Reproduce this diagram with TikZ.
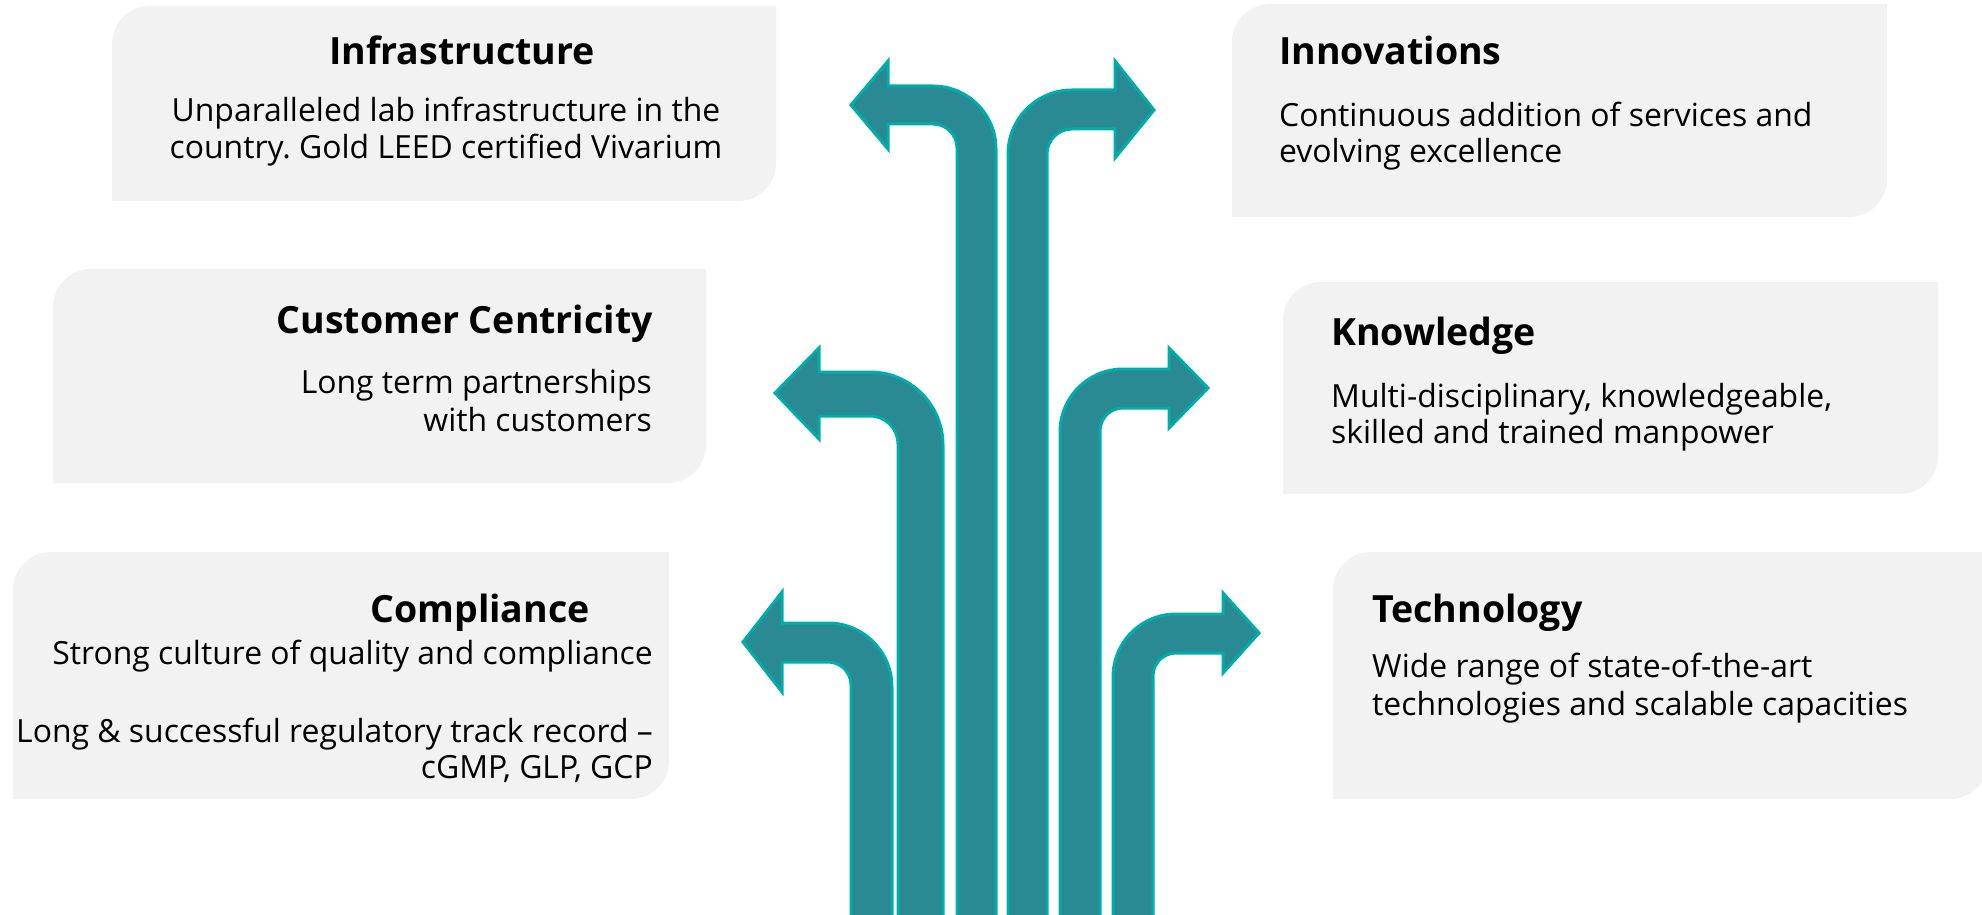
\documentclass[tikz,border=0pt]{standalone}
\usepackage{fontspec}
\setmainfont{Open Sans}
\frenchspacing

\definecolor{panelgray}{HTML}{F2F2F2}
\definecolor{arrowfill}{HTML}{298A94}
\definecolor{arrowedge}{HTML}{00ADA8}

% panel with rounded top-left and bottom-right corners: name, x1, y1, x2, y2
\newcommand\panelbox[5]{%
  \path[panel] (#2,#3+38) arc[start angle=180,end angle=270,radius=38]
    -- (#4,#3) -- (#4,#5-38) arc[start angle=0,end angle=90,radius=38]
    -- (#2,#5) -- cycle;
  \coordinate (#1) at ({(#2+#4)/2},{(#3+#5)/2});
}

\tikzset{
  panel/.style={fill=panelgray, draw=none},
  heading/.style={font=\bfseries\fontsize{37.5}{45}\selectfont, inner sep=0pt, text=black},
  bodytext/.style={font=\fontsize{31.9}{38}\selectfont, inner sep=0pt, text=black},
  branch/.style={fill=arrowfill, draw=arrowedge, line width=3pt, line join=miter},
}

\begin{document}
\begin{tikzpicture}[x=1pt, y=-1pt]
\useasboundingbox (0,0) rectangle (1982,915);

% ---- panels ----
\panelbox{infra}{112}{6}{776}{201}
\panelbox{cust}{53}{269}{706}{483}
\panelbox{compl}{13}{552}{669}{799}
\panelbox{innov}{1232}{4}{1887}{217}
\panelbox{know}{1283}{282}{1938}{494}
\panelbox{tech}{1333}{552}{1988}{799}

% ---- branching arrows ----
% top left
\draw[branch] (996,920) -- (996,149) arc[start angle=0,end angle=-90,radius=63]
  -- (888,86) -- (888,61) -- (851,105) -- (888,149) -- (888,124) -- (933,124)
  arc[start angle=-90,end angle=0,radius=24] -- (957,920) -- cycle;
% top right
\draw[branch] (1008,920) -- (1008,154) arc[start angle=180,end angle=270,radius=64]
  -- (1115,90) -- (1115,61) -- (1154,110) -- (1115,158) -- (1115,129) -- (1072,129)
  arc[start angle=270,end angle=180,radius=25] -- (1047,920) -- cycle;
% middle left
\draw[branch] (943,920) -- (943,445) arc[start angle=0,end angle=-90,radius=73]
  -- (819,372) -- (819,348) -- (775,393) -- (819,439) -- (819,416) -- (870,416)
  arc[start angle=-90,end angle=0,radius=28] -- (898,920) -- cycle;
% middle right
\draw[branch] (1060,920) -- (1060,432) arc[start angle=180,end angle=270,radius=63]
  -- (1169,369) -- (1169,348) -- (1208,388) -- (1169,428) -- (1169,408) -- (1123,408)
  arc[start angle=270,end angle=180,radius=23] -- (1100,920) -- cycle;
% bottom left
\draw[branch] (892,920) -- (892,687) arc[start angle=0,end angle=-90,radius=64]
  -- (782,623) -- (782,592) -- (743,642) -- (782,692) -- (782,662) -- (828,662)
  arc[start angle=-90,end angle=0,radius=23] -- (851,920) -- cycle;
% bottom right
\draw[branch] (1113,920) -- (1113,677) arc[start angle=180,end angle=270,radius=63]
  -- (1223,614) -- (1223,593) -- (1259,633) -- (1223,673) -- (1223,653) -- (1176,653)
  arc[start angle=270,end angle=180,radius=23] -- (1153,920) -- cycle;

% ---- texts ----
\node[heading, anchor=base] (infra-title) at (462,65) {Infrastructure};
\node[bodytext, anchor=base] (infra-l1) at (446,122) {Unparalleled lab infrastructure in the};
\node[bodytext, anchor=base] (infra-l2) at (446,159) {country. Gold LEED certified Vivarium};

\node[heading, anchor=base east] (cust-title) at (653,333) {Customer Centricity};
\node[bodytext, anchor=base east] (cust-l1) at (652,393) {Long term partnerships};
\node[bodytext, anchor=base east] (cust-l2) at (652,431) {with customers};

\node[heading, anchor=base] (compl-title) at (480,622) {Compliance};
\node[bodytext, anchor=base east] (compl-l1) at (653,664) {Strong culture of quality and compliance};
\node[bodytext, anchor=base east] (compl-l2) at (653,742) {Long \& successful regulatory track record –};
\node[bodytext, anchor=base east] (compl-l3) at (653,778) {cGMP, GLP, GCP};

\node[heading, anchor=base west] (innov-title) at (1279,65) {Innovations};
\node[bodytext, anchor=base west] (innov-l1) at (1279,127) {Continuous addition of services and};
\node[bodytext, anchor=base west] (innov-l2) at (1279,163) {evolving excellence};

\node[heading, anchor=base west] (know-title) at (1331,345) {Knowledge};
\node[bodytext, anchor=base west] (know-l1) at (1331,407) {Multi-disciplinary, knowledgeable,};
\node[bodytext, anchor=base west] (know-l2) at (1331,443) {skilled and trained manpower};

\node[heading, anchor=base west] (tech-title) at (1372,622) {Technology};
\node[bodytext, anchor=base west] (tech-l1) at (1372,677) {Wide range of state-of-the-art};
\node[bodytext, anchor=base west] (tech-l2) at (1372,715) {technologies and scalable capacities};
\end{tikzpicture}
\end{document}
